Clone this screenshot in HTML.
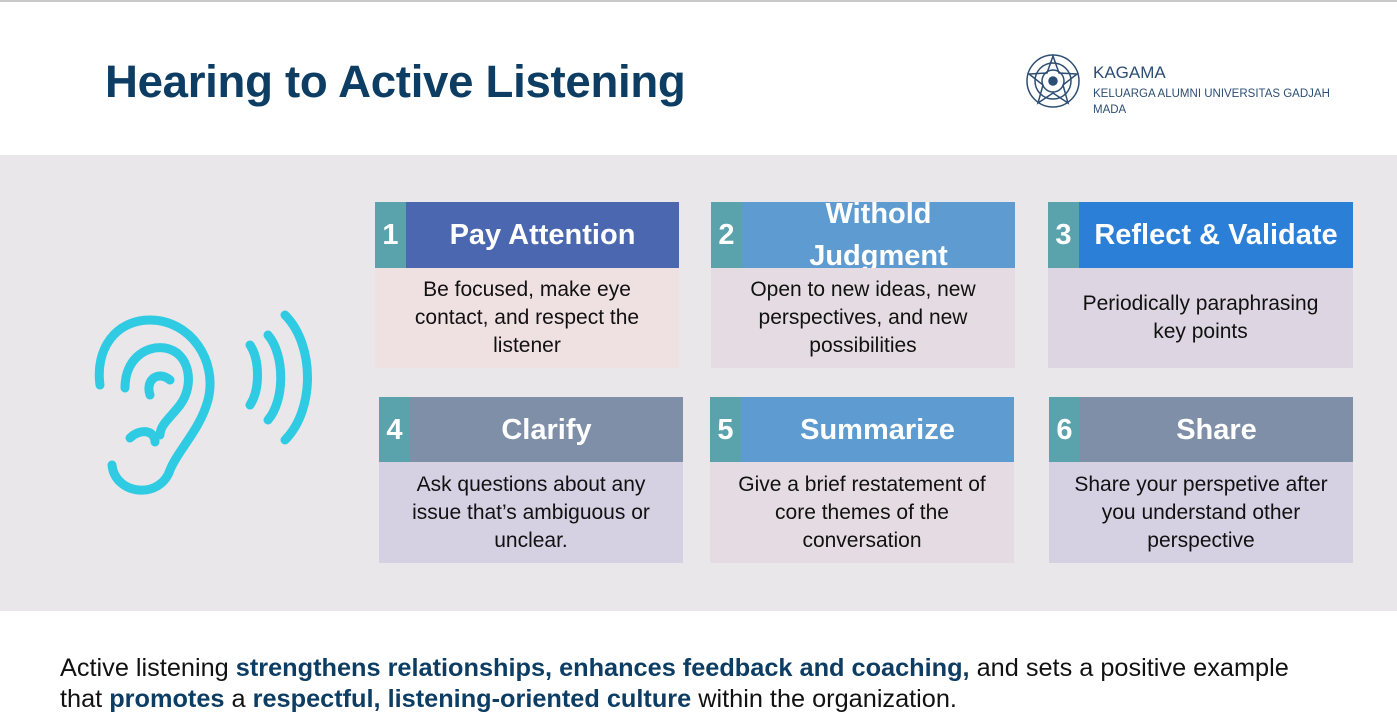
<!DOCTYPE html>
<html><head><meta charset="utf-8"><style>
*{margin:0;padding:0;box-sizing:border-box}
body{width:1397px;height:724px;background:#fff;position:relative;overflow:hidden;font-family:"Liberation Sans",sans-serif}
.topline{position:absolute;left:0;top:0;width:1397px;height:2px;background:#c8c8c8}
h1{position:absolute;left:105px;top:56px;font-size:45.6px;font-weight:bold;color:#0d3d63;letter-spacing:-0.3px}
.band{position:absolute;left:0;top:155px;width:1397px;height:456px;background:#e9e7ea}
.card{position:absolute;width:304px}
.hd{height:66px;position:relative;color:#fff;font-weight:bold;display:flex;align-items:center;justify-content:center;font-size:29px;padding-left:31px;line-height:42px;text-align:center}
.num{position:absolute;left:0;top:0;width:31px;height:100%;background:#5aa2ac;display:flex;align-items:center;justify-content:center;font-size:29px}
.bd{height:100px;display:flex;align-items:center;justify-content:center;text-align:center;font-size:21px;line-height:28px;color:#111;padding:0 12px}
.foot{position:absolute;left:60px;top:653px;font-size:25.3px;line-height:31px;color:#111}
.foot b{color:#0d3d63}
</style></head><body>
<div class="topline"></div>
<h1>Hearing to Active Listening</h1>
<svg style="position:absolute;left:1020px;top:48px" width="66" height="66" viewBox="0 0 66 66" fill="none" stroke="#2d4e73" stroke-width="1.5">
<circle cx="33" cy="33" r="26"/><circle cx="33" cy="33" r="18"/><circle cx="33" cy="33" r="11"/><circle cx="33" cy="33" r="4" fill="#2d4e73"/>
<path d="M33 8 L39 25 L57 26 L43 37 L48 55 L33 45 L18 55 L23 37 L9 26 L27 25 Z"/></svg>
<div style="position:absolute;left:1093px;top:63px;font-size:17px;color:#2d4e73">KAGAMA</div>
<div style="position:absolute;left:1093px;top:86px;font-size:11.5px;line-height:16px;color:#2d4e73">KELUARGA ALUMNI UNIVERSITAS GADJAH<br>MADA</div>
<div class="band"></div>
<svg style="position:absolute;left:90px;top:300px" width="230" height="200" viewBox="0 0 230 200" fill="none" stroke="#2ecbe3" stroke-width="9" stroke-linecap="round">
<path d="M22 165 C25 195 70 200 80 170 C88 150 110 130 118 100 C128 60 100 20 60 20 C25 20 5 50 10 85"/>
<path d="M35 88 C35 60 55 45 75 48 C100 52 105 85 90 105 C80 118 70 125 70 135"/>
<path d="M60 95 C55 80 68 70 80 80"/>
<path d="M40 138 C50 128 65 130 65 142"/>
<path d="M160 45 C170 60 170 90 160 105"/>
<path d="M178 35 C195 55 195 100 178 120"/>
<path d="M195 15 C225 45 225 110 195 140"/>
</svg>
<div class="card" style="left:375px;top:202px"><div class="hd" style="background:#4a67b0"><div class="num">1</div>Pay Attention</div><div class="bd" style="background:#efe0e2">Be focused, make eye contact, and respect the listener</div></div>
<div class="card" style="left:711px;top:202px"><div class="hd" style="background:#5e9bd0;overflow:hidden"><div class="num">2</div>Withold<br>Judgment</div><div class="bd" style="background:#e4dce2">Open to new ideas, new perspectives, and new possibilities</div></div>
<div class="card" style="left:1048px;top:202px;width:305px"><div class="hd" style="background:#2b7fd6"><div class="num">3</div>Reflect &amp; Validate</div><div class="bd" style="background:#ddd6e2;padding:0 20px">Periodically paraphrasing key points</div></div>
<div class="card" style="left:379px;top:397px"><div class="hd" style="background:#7f8fa8;height:65px"><div class="num">4</div>Clarify</div><div class="bd" style="background:#d5d1e3;height:101px">Ask questions about any issue that’s ambiguous or unclear.</div></div>
<div class="card" style="left:710px;top:397px"><div class="hd" style="background:#5e9bd0;height:65px"><div class="num">5</div>Summarize</div><div class="bd" style="background:#e4dce2;height:101px">Give a brief restatement of core themes of the conversation</div></div>
<div class="card" style="left:1049px;top:397px"><div class="hd" style="background:#7f8fa8;height:65px"><div class="num">6</div>Share</div><div class="bd" style="background:#d5d1e3;height:101px">Share your perspetive after you understand other perspective</div></div>
<div class="foot">Active listening <b>strengthens relationships, enhances feedback and coaching,</b> and sets a positive example<br>that <b>promotes</b> a <b>respectful, listening-oriented culture</b> within the organization.</div>
</body></html>
